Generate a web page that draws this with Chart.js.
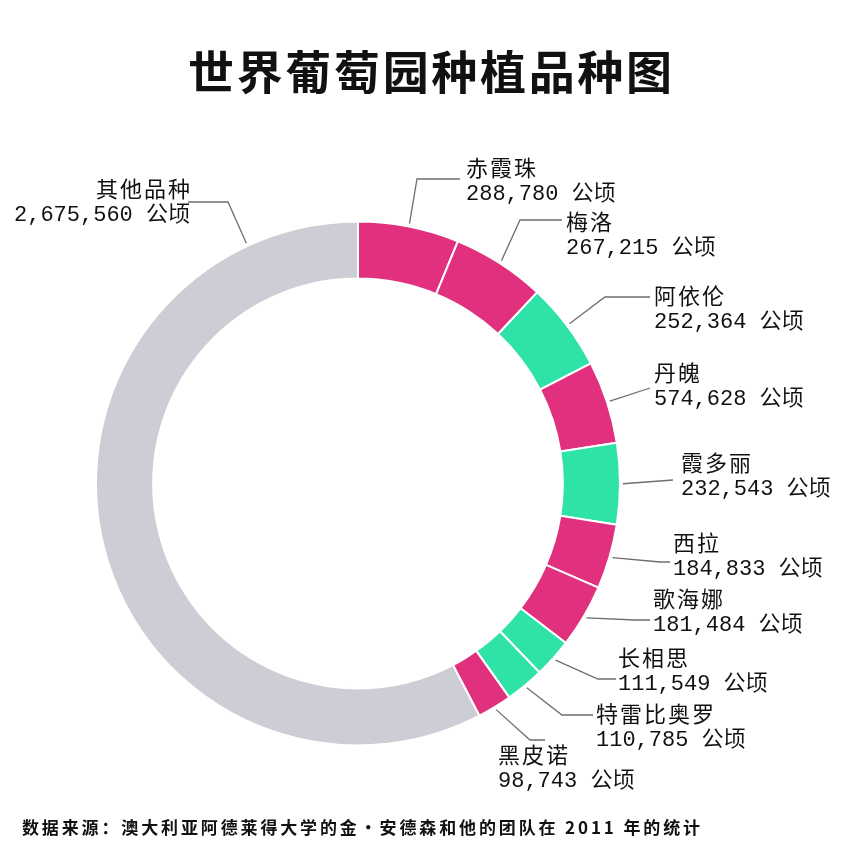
<!DOCTYPE html>
<html lang="zh">
<head>
<meta charset="UTF-8">
<title>世界葡萄园种植品种图</title>
<script src="https://cdn.jsdelivr.net/npm/chart.js"></script>
<style>
  body { margin: 0; background: #fff; }
  canvas { display: block; }
</style>
</head>
<body>
<canvas id="myChart" width="860" height="860"></canvas>
<script>
// data block
const varieties = ['赤霞珠', '梅洛', '阿依伦', '丹魄', '霞多丽', '西拉', '歌海娜', '长相思', '特雷比奥罗', '黑皮诺', '其他品种'];
// hectares as printed on the labels
const hectaresText = ['288,780', '267,215', '252,364', '574,628', '232,543', '184,833', '181,484', '111,549', '110,785', '98,743', '2,675,560'];
// slice sizes as drawn (丹魄's arc in the picture is ~236k, not the printed value)
const sliceValues = [288780, 267215, 252364, 236000, 232543, 184833, 181484, 111549, 110785, 98743, 2675560];
const sliceKinds = ['red', 'red', 'white', 'red', 'white', 'red', 'red', 'white', 'white', 'red', 'other'];
const unit = '公顷';
const titleText = '世界葡萄园种植品种图';
const sourceText = '数据来源：澳大利亚阿德莱得大学的金•安德森和他的团队在 2011 年的统计';

const kindColors = { red: 'rgb(224,48,126)', white: 'rgb(47,227,168)', other: 'rgb(205,205,213)' };

// label placement: where on the arc the leader starts (0..1), elbow, end of leader, text x, first line y
const labelLayout = [
    { at: 0.5, ex: 417, ey: 179, endX: 460, tx: 466, ty: 168 },
    { at: 0.5, ex: 520, ey: 220, endX: 562, tx: 566, ty: 222 },
    { at: 0.5, ex: 605, ey: 297, endX: 650, tx: 654, ty: 296 },
    { at: 0.5, ex: 650, ey: 388, endX: 650, tx: 654, ty: 373 },
    { at: 0.5, ex: 673, ey: 480, endX: 673, tx: 681, ty: 463 },
    { at: 0.5, ex: 660, ey: 562, endX: 670, tx: 673, ty: 543 },
    { at: 0.5, ex: 635, ey: 620, endX: 650, tx: 653, ty: 599 },
    { at: 0.5, ex: 598, ey: 679, endX: 616, tx: 618, ty: 658 },
    { at: 0.5, ex: 562, ey: 715, endX: 593, tx: 596, ty: 714 },
    { at: 0.5, ex: 530, ey: 740, endX: 545, tx: 498, ty: 755 },
    { at: 0.88, ex: 228, ey: 202, endX: 188, tx: 190, ty: 189, align: 'right' }
];

function fitText(ctx, text, x, y, width, align) {
    ctx.letterSpacing = '0px';
    const w = ctx.measureText(text).width;
    const n = [...text].length;
    ctx.letterSpacing = ((width - w) / (n - 1)) + 'px';
    ctx.textAlign = 'left';
    ctx.fillText(text, align === 'center' ? x - width / 2 : x, y);
}

const labelPlugin = {
    id: 'leaderLabels',
    afterDraw(chart) {
        const ctx = chart.ctx;
        const arcs = chart.getDatasetMeta(0).data;
        ctx.save();
        ctx.fillStyle = '#111';
        ctx.textBaseline = 'middle';

        // title
        ctx.font = 'bold 46px "Noto Sans CJK SC"';
        fitText(ctx, titleText, 430, 72, 484, 'center');

        // source line
        ctx.font = 'bold 17px "Noto Sans CJK SC"';
        fitText(ctx, sourceText, 22, 828, 678, 'left');

        arcs.forEach((arc, i) => {
            const p = arc.getProps(['x', 'y', 'startAngle', 'endAngle', 'outerRadius'], true);
            const L = labelLayout[i];
            const a = p.startAngle + (p.endAngle - p.startAngle) * L.at;
            const r = p.outerRadius + 3;
            const sx = p.x + Math.cos(a) * r;
            const sy = p.y + Math.sin(a) * r;

            ctx.strokeStyle = '#6e6e6e';
            ctx.lineWidth = 1.3;
            ctx.beginPath();
            ctx.moveTo(sx, sy);
            ctx.lineTo(L.ex, L.ey);
            ctx.lineTo(L.endX, L.ey);
            ctx.stroke();

            ctx.textAlign = L.align || 'left';
            ctx.font = '22px "Noto Sans CJK SC"';
            ctx.letterSpacing = '2px';
            ctx.fillText(varieties[i], L.tx + (L.align === 'right' ? 2 : 0), L.ty);
            ctx.font = '22px "Liberation Mono", "Noto Sans CJK SC"';
            ctx.letterSpacing = '0px';
            ctx.fillText(hectaresText[i] + ' ' + unit, L.tx, L.ty + 26.5);
        });
        ctx.restore();
    }
};

const data = {
    labels: varieties,
    datasets: [{
        data: sliceValues,
        backgroundColor: sliceKinds.map(k => kindColors[k]),
        borderColor: '#ffffff',
        borderWidth: 2,
        hoverOffset: 0
    }]
};

const config = {
    type: 'doughnut',
    data,
    options: {
        responsive: false,
        animation: false,
        cutout: '78.2%',
        layout: { padding: { left: 95, right: 239, top: 220.5, bottom: 113.5 } },
        plugins: {
            legend: { display: false },
            tooltip: { enabled: false }
        }
    },
    plugins: [labelPlugin]
};

const myChart = new Chart(document.getElementById('myChart'), config);
</script>
</body>
</html>
